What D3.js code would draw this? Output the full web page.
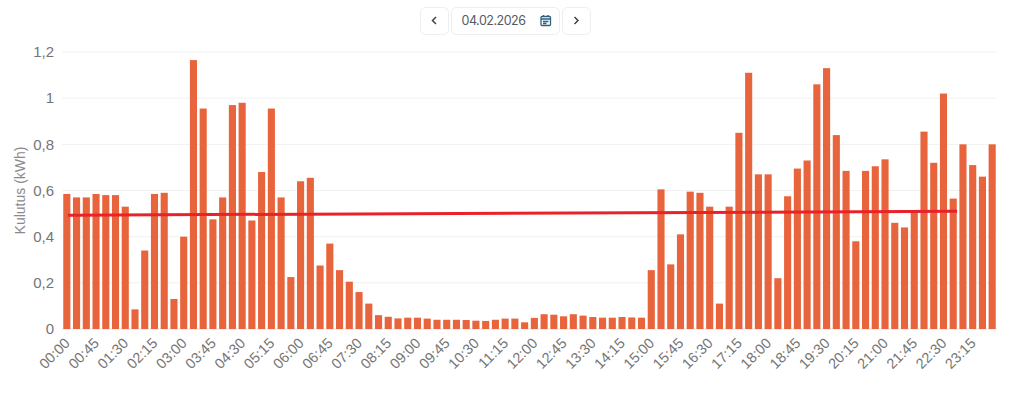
<!DOCTYPE html>
<html><head><meta charset="utf-8">
<script src="https://cdn.jsdelivr.net/npm/d3@7/dist/d3.min.js"></script>
<style>
html,body{margin:0;padding:0;background:#fff;overflow:hidden}
svg{display:block;font-family:"Liberation Sans",Arial,sans-serif}
</style></head><body>
<svg id="chart" width="1024" height="393"></svg>
<script>
const dateLabel = "04.02.2026";
const yAxisTitle = "Kulutus (kWh)";
const yTicks = [0, 0.2, 0.4, 0.6, 0.8, 1, 1.2];
const consumption = [
  .585,.57,.57,.585,.58,.58,.53,.085,.34,.585,.59,.13,.40,1.165,.955,.475,
  .57,.97,.98,.47,.68,.955,.57,.225,.64,.655,.275,.37,.255,.205,.16,.11,
  .06,.053,.046,.049,.049,.045,.04,.04,.04,.039,.036,.035,.04,.045,.045,.029,
  .048,.064,.062,.055,.064,.058,.052,.049,.049,.052,.05,.049,.255,.605,.28,.41,
  .595,.59,.53,.11,.53,.85,1.11,.67,.67,.22,.575,.695,.73,1.06,1.13,.84,
  .685,.38,.685,.705,.735,.46,.44,.51,.855,.72,1.02,.565,.80,.71,.66,.80
];
const times = consumption.map((_, i) => d3.timeFormat("%H:%M")(new Date(2026, 1, 4, 0, i * 15)));
const tickTimes = times.filter((_, i) => i % 3 === 0);
const trendSlots = [0.1, 91.4];
const trendValues = [0.493, 0.51];

const svg = d3.select("#chart");
const m = {left: 62, right: 997, top: 52, bottom: 329};
const x = d3.scaleBand().domain(times).range([m.left, m.right]).paddingInner(0.27).paddingOuter(0.13);
const y = d3.scaleLinear().domain([0, 1.2]).range([m.bottom, m.top]);
const fmt = d => String(d).replace(".", ",");

// grid
svg.append("g").selectAll("line").data(yTicks).join("line")
  .attr("x1", m.left).attr("x2", m.right)
  .attr("y1", d => y(d)).attr("y2", d => y(d))
  .attr("stroke", d => d === 0 ? "#e4e4e4" : "#f1f1f1").attr("stroke-width", 1);

// bars
svg.append("g").selectAll("rect").data(consumption).join("rect")
  .attr("x", (d, i) => x(times[i])).attr("width", x.bandwidth())
  .attr("y", d => y(d)).attr("height", d => y(0) - y(d))
  .attr("fill", "#e8643c");

// trend
const slotX = d3.scaleLinear().domain([0, times.length - 1])
  .range([x(times[0]) + x.bandwidth() / 2, x(times[times.length - 1]) + x.bandwidth() / 2]);
const line = d3.line().x((d, i) => slotX(trendSlots[i])).y(d => y(d));
svg.append("path").datum(trendValues).attr("d", line)
  .attr("fill", "none").attr("stroke", "#e9222a").attr("stroke-width", 3);

// y axis
const ya = svg.append("g").attr("transform", `translate(${m.left},0)`)
  .call(d3.axisLeft(y).tickValues(yTicks).tickFormat(fmt).tickSize(0).tickPadding(8));
ya.select(".domain").remove();
ya.selectAll("text").attr("font-size", 15).attr("fill", "#757575").attr("font-family", '"Liberation Sans",Arial,sans-serif');

svg.append("text").attr("transform", "translate(25,190.5) rotate(-90)")
  .attr("text-anchor", "middle").attr("font-size", 14).attr("fill", "#8a8a8a").text(yAxisTitle);

// x axis
const xa = svg.append("g").attr("transform", `translate(0,${m.bottom})`)
  .call(d3.axisBottom(x).tickValues(tickTimes).tickSize(0).tickPadding(0));
xa.select(".domain").remove();
xa.selectAll("text")
  .attr("font-size", 14.5).attr("fill", "#757575").attr("font-family", '"Liberation Sans",Arial,sans-serif')
  .attr("text-anchor", "end").attr("dy", 0).attr("y", 0)
  .attr("transform", "translate(4,15) rotate(-45)");

// date picker
const boxes = [{x: 420, w: 29}, {x: 451, w: 109}, {x: 562, w: 29}];
svg.append("g").selectAll("rect").data(boxes).join("rect")
  .attr("x", d => d.x + .5).attr("y", 7.5).attr("width", d => d.w - 1).attr("height", 27).attr("rx", 5)
  .attr("fill", "#fff").attr("stroke", "#eeeeee");
svg.append("path").attr("d", "M436 17 L432.5 20.5 L436 24").attr("fill", "none").attr("stroke", "#3c4450").attr("stroke-width", 1.5);
svg.append("path").attr("d", "M574.5 17 L578 20.5 L574.5 24").attr("fill", "none").attr("stroke", "#3c4450").attr("stroke-width", 1.5);
svg.append("text").attr("x", 493.5).attr("y", 25).attr("text-anchor", "middle")
  .attr("font-size", 12.5).attr("fill", "#555b63").attr("font-family", "Inter, sans-serif").attr("letter-spacing", -0.5).text(dateLabel);
const cal = svg.append("g").attr("fill", "none").attr("stroke", "#2f5f80").attr("stroke-width", 1.3);
cal.append("rect").attr("x", 541).attr("y", 16.5).attr("width", 9.5).attr("height", 9).attr("rx", 1);
cal.append("path").attr("d", "M541 19 H550.5 M543 21.5 H548.5 M543 23.5 H546.5");
cal.append("path").attr("d", "M543.5 15 V17 M548 15 V17");
</script>
</body></html>
